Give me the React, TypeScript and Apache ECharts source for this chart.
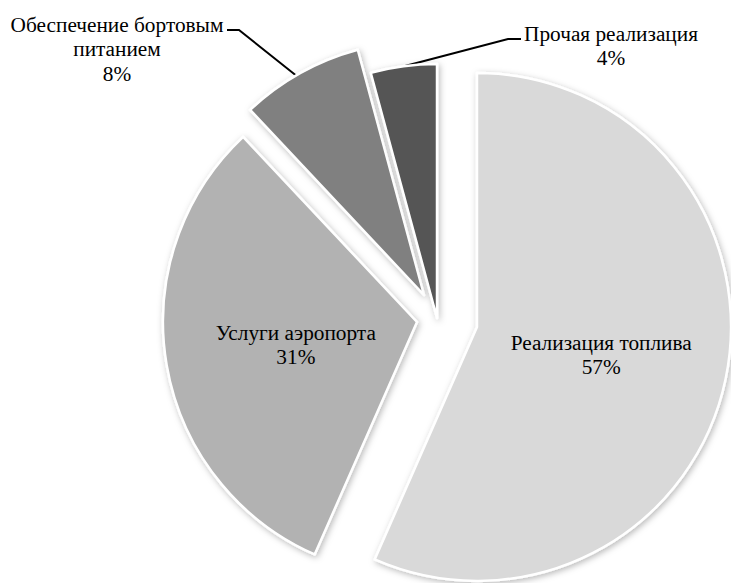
import React, { useEffect, useRef } from "react";
import * as echarts from "echarts";

// Data
const categories = [
  "Реализация топлива",
  "Услуги аэропорта",
  "Обеспечение бортовым\nпитанием",
  "Прочая реализация",
];
const shares = [56.6, 31.4, 7.8, 4.2];

// Styling / layout
const colors = ["#d9d9d9", "#b2b2b2", "#808080", "#555555"];
const centers = [
  [477, 327],
  [417, 322],
  [424, 295],
  [437, 318],
];
const innerLabelShift: Record<number, number[]> = {
  0: [-3, 1],
  1: [7, 1],
};
const outsideLabels: Record<number, { x: number; y: number; line: number[][] }> = {
  2: { x: 117, y: 49, line: [[303, 81], [239, 30], [227, 30]] },
  3: { x: 611, y: 46, line: [[405, 66], [508, 39], [521, 39]] },
};
const FONT = "Liberation Serif, Times New Roman, serif";

export default function App() {
  const ref = useRef<HTMLDivElement>(null);

  useEffect(() => {
    if (!ref.current) return;
    const chart = echarts.init(ref.current, null, { renderer: "svg" });

    const labelText = {
      fontFamily: FONT,
      fontSize: 21.3,
      lineHeight: 24.5,
      color: "#000",
      align: "center",
    };

    const series = shares.map((_, k) => {
      const outside = outsideLabels[k];
      const shift = innerLabelShift[k];
      return {
        type: "pie",
        radius: 254,
        center: centers[k],
        startAngle: 90,
        clockwise: true,
        percentPrecision: 0,
        avoidLabelOverlap: false,
        silent: true,
        emphasis: { disabled: true },
        label: {
          position: outside ? "outside" : "inner",
          formatter: "{b}\n{d}%",
          ...labelText,
        },
        labelLine: {
          length: 10,
          length2: 10,
          lineStyle: { color: "#000", width: 2 },
        },
        labelLayout: (p: any) => {
          if (p.dataIndex !== k) return {};
          if (outside) {
            return {
              x: outside.x,
              y: outside.y,
              align: "center",
              verticalAlign: "middle",
              labelLinePoints: outside.line,
            };
          }
          return shift ? { dx: shift[0], dy: shift[1] } : {};
        },
        data: shares.map((v, i) => ({
          name: categories[i],
          value: v,
          itemStyle:
            i === k
              ? {
                  color: colors[i],
                  borderColor: "#ffffff",
                  borderWidth: 2.5,
                  shadowBlur: 6,
                  shadowColor: "rgba(0,0,0,0.28)",
                  shadowOffsetX: 1.5,
                  shadowOffsetY: 2,
                }
              : { color: "rgba(0,0,0,0)", borderWidth: 0, shadowBlur: 0 },
          label: { show: i === k, ...labelText },
          labelLine: { show: i === k && !!outside },
        })),
      };
    });

    chart.setOption({
      animation: false,
      backgroundColor: "#ffffff",
      textStyle: { fontFamily: FONT },
      series,
    } as any);

    return () => chart.dispose();
  }, []);

  return (
    <div
      ref={ref}
      style={{ position: "fixed", left: 0, top: 0, width: 731, height: 583 }}
    />
  );
}
